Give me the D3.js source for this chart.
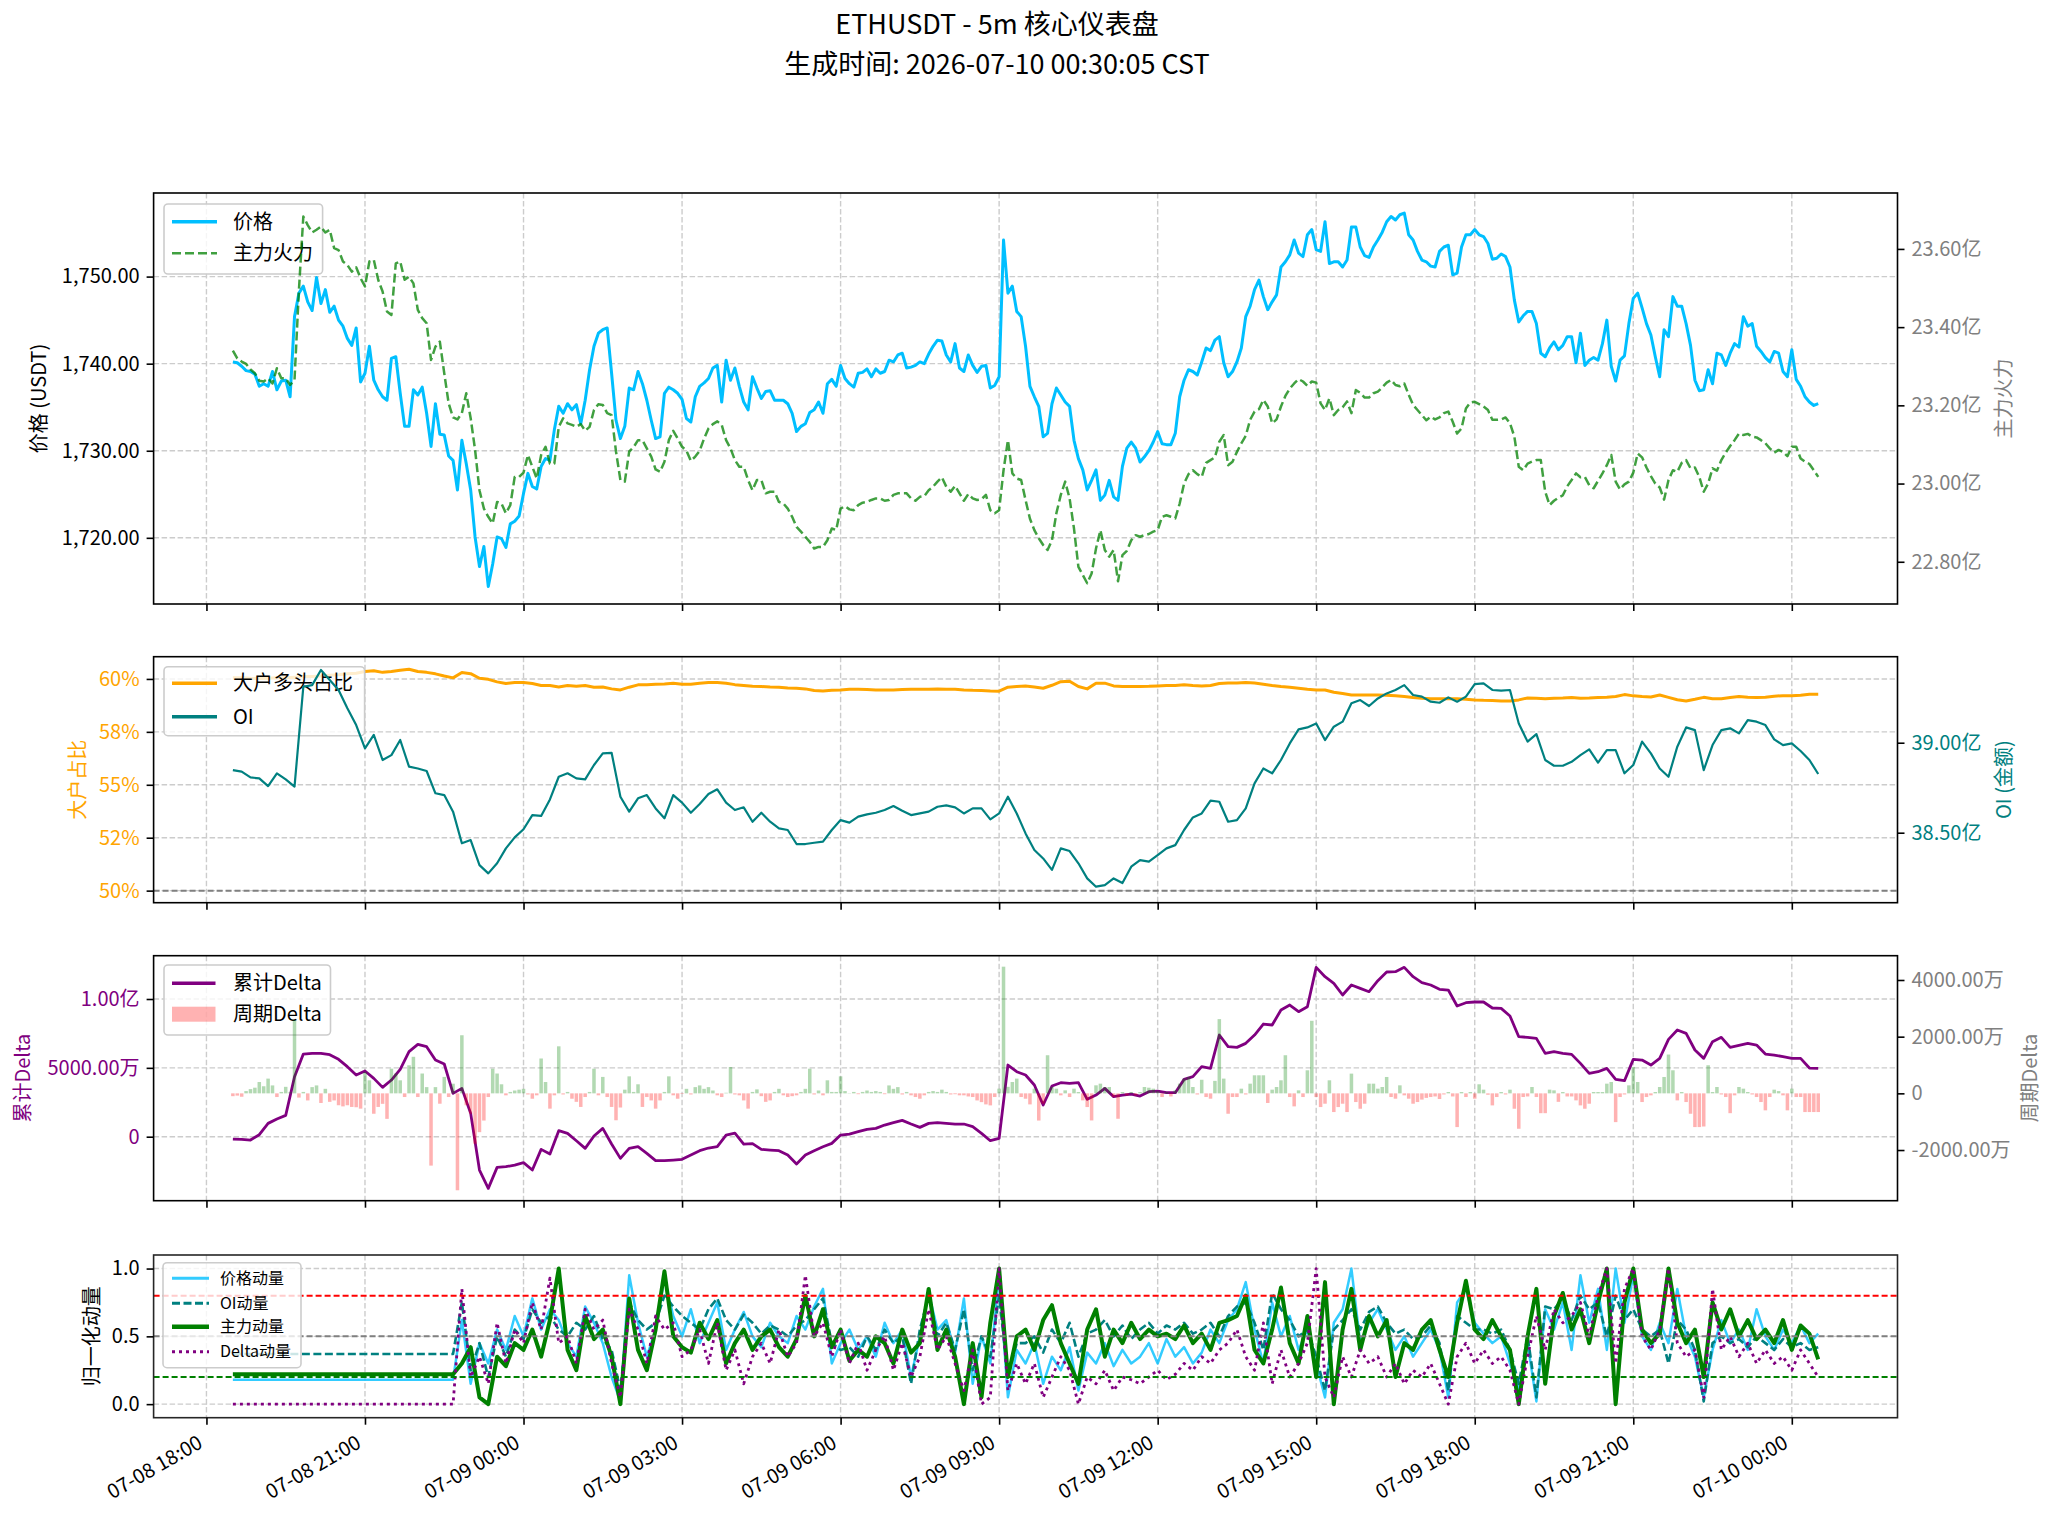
<!DOCTYPE html>
<html>
<head>
<meta charset="utf-8">
<script src="https://cdn.jsdelivr.net/npm/d3@7"></script>
<style>
  body { margin: 0; background: #fff; }
  svg text { font-family: "Noto Sans CJK SC", "Noto Sans", sans-serif; }
</style>
</head>
<body>
<div id="chart-container"></div>
<script>
const chartWidth = 2059;
const chartHeight = 1521;

const titleLines = ['ETHUSDT - 5m 核心仪表盘', '生成时间: 2026-07-10 00:30:05 CST'];

// first bar 07-08 18:30, 5m bars for panel 1 / 周期Delta, 10m samples for the rest
const startTime = new Date(2026, 6, 8, 18, 30);

const xTickLabels = ['07-08 18:00', '07-08 21:00', '07-09 00:00', '07-09 03:00', '07-09 06:00',
  '07-09 09:00', '07-09 12:00', '07-09 15:00', '07-09 18:00', '07-09 21:00', '07-10 00:00'];

// 价格 (USDT), 5m
const price = [
  1740.2,1740.1,1739.7,1739.2,1739.1,1738.8,1737.4,1737.7,1737.4,1739.1,
  1737.0,1738.0,1738.1,1736.2,1745.4,1748.1,1748.9,1747.1,1746.1,1749.9,
  1746.9,1748.5,1745.9,1746.6,1745.0,1744.3,1742.9,1742.1,1744.1,1737.9,
  1738.9,1742.0,1738.1,1737.0,1736.2,1735.8,1740.6,1740.8,1736.6,1732.8,
  1732.8,1737.0,1736.4,1737.3,1734.3,1730.5,1735.4,1731.9,1731.8,1729.4,
  1728.9,1725.5,1731.2,1728.5,1725.5,1720.1,1716.7,1719.0,1714.4,1717.0,
  1720.1,1719.9,1718.9,1721.6,1721.9,1722.5,1725.1,1727.4,1725.9,1725.6,
  1728.2,1729.1,1728.9,1732.4,1735.1,1734.3,1735.4,1734.7,1735.3,1733.1,
  1735.8,1739.3,1742.0,1743.5,1743.9,1744.1,1738.9,1733.5,1731.4,1732.8,
  1737.2,1737.0,1739.1,1737.7,1735.8,1733.5,1731.4,1731.6,1736.6,1737.3,
  1737.0,1736.6,1735.9,1733.7,1733.3,1736.2,1737.4,1737.8,1738.3,1739.5,
  1739.8,1735.6,1740.4,1738.1,1739.5,1737.4,1735.6,1734.7,1738.5,1737.2,
  1736.0,1736.8,1736.9,1735.8,1735.8,1735.8,1735.4,1734.3,1732.2,1732.8,
  1733.1,1734.4,1734.7,1735.6,1734.3,1737.7,1738.2,1737.4,1739.8,1738.3,
  1737.7,1737.3,1738.9,1739.0,1739.4,1738.5,1739.4,1738.9,1739.1,1740.4,
  1740.2,1741.0,1741.2,1739.5,1739.6,1739.8,1740.2,1740.0,1741.1,1742.0,
  1742.7,1742.6,1741.0,1740.2,1742.3,1739.5,1739.1,1741.0,1739.8,1739.0,
  1739.7,1739.8,1737.2,1737.5,1738.5,1754.2,1748.1,1748.9,1746.0,1745.4,
  1742.0,1737.4,1736.2,1735.1,1731.6,1732.0,1735.4,1737.2,1736.4,1735.6,
  1735.1,1731.2,1729.1,1727.8,1725.5,1726.6,1727.8,1724.3,1724.9,1726.6,
  1724.7,1724.3,1728.2,1730.3,1731.0,1730.3,1728.7,1729.3,1730.0,1731.0,
  1732.2,1730.8,1730.7,1730.7,1732.0,1736.2,1738.1,1739.3,1739.1,1738.7,
  1740.2,1741.8,1741.5,1742.7,1743.1,1740.1,1738.5,1739.1,1740.2,1741.8,
  1745.4,1746.6,1748.5,1749.6,1747.7,1746.2,1747.1,1747.9,1751.1,1751.7,
  1752.5,1754.2,1752.7,1752.3,1754.8,1755.4,1753.1,1752.9,1756.3,1751.5,
  1751.7,1751.7,1751.1,1751.9,1755.7,1755.7,1753.4,1752.4,1752.2,1753.4,
  1754.2,1755.1,1756.3,1756.9,1756.5,1757.1,1757.3,1754.8,1754.2,1752.9,
  1751.9,1751.7,1751.2,1751.1,1752.9,1753.4,1753.6,1750.2,1750.4,1753.4,
  1754.8,1754.8,1755.4,1754.8,1754.6,1753.8,1752.0,1752.1,1752.6,1752.3,
  1751.1,1747.3,1744.8,1745.5,1746.0,1746.0,1744.6,1741.2,1740.8,1741.8,
  1742.5,1741.6,1742.1,1743.1,1743.1,1740.1,1743.5,1739.8,1740.4,1740.7,
  1740.4,1742.3,1745.0,1739.7,1738.0,1740.4,1740.9,1744.6,1747.5,1748.1,
  1746.4,1744.6,1743.3,1740.8,1738.5,1743.9,1743.1,1747.7,1746.6,1746.6,
  1744.6,1742.1,1738.1,1736.9,1737.0,1739.3,1737.7,1741.2,1741.0,1739.8,
  1741.2,1742.3,1741.9,1745.4,1744.3,1744.6,1742.0,1741.4,1740.7,1740.2,
  1741.4,1741.2,1739.1,1738.5,1741.6,1738.2,1737.4,1736.2,1735.6,1735.2,1735.4
];

// 主力火力 (亿), 5m
const zhuli = [
  23.340,23.320,23.312,23.306,23.292,23.282,23.263,23.261,23.269,23.256,
  23.295,23.269,23.269,23.252,23.265,23.495,23.683,23.661,23.642,23.649,
  23.657,23.642,23.649,23.602,23.597,23.568,23.559,23.542,23.553,23.525,
  23.504,23.568,23.572,23.521,23.491,23.440,23.431,23.563,23.568,23.521,
  23.529,23.512,23.444,23.423,23.410,23.316,23.350,23.363,23.282,23.205,
  23.169,23.164,23.180,23.231,23.167,23.086,22.983,22.936,22.915,22.898,
  22.953,22.949,22.924,22.945,23.017,23.017,23.028,23.073,23.043,23.013,
  23.073,23.094,23.051,23.051,23.145,23.167,23.154,23.150,23.145,23.152,
  23.135,23.145,23.188,23.203,23.201,23.180,23.175,23.082,23.009,23.005,
  23.082,23.093,23.111,23.111,23.090,23.069,23.036,23.030,23.056,23.111,
  23.135,23.115,23.094,23.084,23.058,23.069,23.084,23.115,23.141,23.152,
  23.159,23.150,23.111,23.090,23.060,23.043,23.043,23.009,22.983,23.009,
  23.009,22.975,22.979,22.979,22.953,22.949,22.936,22.915,22.889,22.877,
  22.864,22.851,22.834,22.838,22.838,22.855,22.885,22.881,22.936,22.942,
  22.934,22.932,22.945,22.951,22.953,22.958,22.962,22.962,22.956,22.958,
  22.971,22.975,22.975,22.975,22.962,22.956,22.966,22.968,22.983,22.992,
  23.005,23.016,22.992,22.979,22.994,22.975,22.956,22.973,22.962,22.958,
  22.960,22.971,22.932,22.924,22.932,23.034,23.111,23.026,23.013,23.009,
  22.958,22.910,22.881,22.860,22.843,22.830,22.855,22.924,22.971,23.005,
  22.962,22.885,22.787,22.766,22.745,22.770,22.834,22.881,22.830,22.813,
  22.830,22.750,22.817,22.828,22.855,22.868,22.864,22.868,22.871,22.877,
  22.881,22.915,22.919,22.915,22.911,22.949,23.000,23.024,23.034,23.024,
  23.017,23.053,23.060,23.067,23.107,23.124,23.047,23.056,23.081,23.103,
  23.122,23.163,23.184,23.190,23.214,23.197,23.154,23.164,23.197,23.224,
  23.243,23.256,23.267,23.261,23.250,23.261,23.258,23.205,23.188,23.218,
  23.175,23.188,23.195,23.210,23.180,23.239,23.232,23.220,23.220,23.231,
  23.235,23.246,23.258,23.265,23.252,23.249,23.256,23.227,23.201,23.188,
  23.175,23.162,23.171,23.164,23.169,23.180,23.184,23.158,23.128,23.141,
  23.192,23.207,23.209,23.203,23.197,23.188,23.163,23.163,23.164,23.169,
  23.154,23.120,23.043,23.034,23.051,23.056,23.060,23.060,22.979,22.945,
  22.956,22.964,22.970,22.993,23.009,23.026,23.016,23.017,22.996,22.988,
  23.007,23.026,23.047,23.073,23.005,22.985,22.998,23.005,23.028,23.077,
  23.067,23.041,23.019,23.000,22.990,22.959,23.009,23.034,23.030,23.053,
  23.060,23.039,23.041,23.017,22.979,23.000,23.039,23.033,23.060,23.079,
  23.096,23.111,23.128,23.124,23.127,23.120,23.118,23.111,23.103,23.090,
  23.079,23.086,23.081,23.070,23.094,23.094,23.064,23.056,23.050,23.034,23.017
];

// 大户多头占比 (%), 10m
const bigRatio = [
  60.06,60.05,60.03,60.02,60.03,60.05,60.05,60.08,60.11,60.11,
  60.14,60.17,60.20,60.24,60.27,60.35,60.39,60.31,60.35,60.41,
  60.46,60.35,60.31,60.24,60.14,60.05,60.30,60.25,60.03,59.98,
  59.86,59.78,59.83,59.83,59.78,59.69,59.69,59.62,59.69,59.65,
  59.69,59.61,59.62,59.53,59.48,59.61,59.72,59.73,59.75,59.76,
  59.80,59.75,59.75,59.80,59.83,59.83,59.80,59.73,59.69,59.65,
  59.64,59.62,59.61,59.57,59.56,59.53,59.45,59.43,59.46,59.48,
  59.51,59.51,59.50,59.48,59.48,59.48,59.50,59.51,59.51,59.51,
  59.53,59.51,59.51,59.48,59.46,59.45,59.43,59.42,59.61,59.64,
  59.67,59.62,59.56,59.70,59.87,59.89,59.64,59.53,59.80,59.80,
  59.67,59.64,59.64,59.64,59.65,59.67,59.69,59.69,59.72,59.69,
  59.67,59.69,59.78,59.81,59.81,59.83,59.81,59.75,59.69,59.64,
  59.61,59.56,59.51,59.48,59.48,59.37,59.31,59.24,59.24,59.24,
  59.24,59.23,59.20,59.17,59.12,59.09,59.06,59.06,59.06,59.06,
  59.04,59.01,58.99,58.98,58.96,58.96,59.01,59.10,59.09,59.06,
  59.09,59.10,59.12,59.09,59.10,59.12,59.13,59.17,59.26,59.20,
  59.17,59.15,59.24,59.13,59.02,58.96,59.04,59.13,59.06,59.06,
  59.12,59.17,59.13,59.12,59.13,59.18,59.21,59.21,59.23,59.28,59.28
];

// OI (金额, 亿), 10m
const oiValue = [
  38.848,38.839,38.807,38.802,38.759,38.830,38.796,38.756,39.311,39.320,
  39.404,39.348,39.293,39.191,39.098,38.969,39.043,38.904,38.931,39.015,
  38.867,38.857,38.843,38.719,38.709,38.617,38.441,38.459,38.320,38.274,
  38.330,38.413,38.474,38.519,38.598,38.593,38.685,38.811,38.830,38.802,
  38.796,38.876,38.941,38.944,38.700,38.617,38.691,38.709,38.635,38.580,
  38.709,38.667,38.611,38.659,38.715,38.741,38.667,38.626,38.641,38.561,
  38.611,38.561,38.524,38.515,38.437,38.437,38.444,38.450,38.515,38.570,
  38.556,38.589,38.602,38.611,38.626,38.648,38.622,38.598,38.607,38.617,
  38.644,38.652,38.641,38.607,38.635,38.635,38.574,38.607,38.700,38.607,
  38.496,38.404,38.357,38.293,38.413,38.398,38.330,38.246,38.200,38.209,
  38.246,38.220,38.311,38.348,38.339,38.376,38.413,38.431,38.515,38.585,
  38.607,38.678,38.672,38.561,38.570,38.635,38.774,38.857,38.830,38.904,
  38.996,39.074,39.085,39.107,39.015,39.089,39.117,39.219,39.237,39.204,
  39.246,39.274,39.293,39.320,39.265,39.256,39.228,39.222,39.252,39.228,
  39.256,39.326,39.330,39.293,39.289,39.293,39.107,39.006,39.048,38.904,
  38.872,38.872,38.894,38.931,38.963,38.889,38.959,38.959,38.830,38.876,
  39.006,38.941,38.857,38.811,38.978,39.085,39.070,38.848,38.987,39.070,
  39.080,39.052,39.126,39.117,39.098,39.019,38.987,38.996,38.954,38.904,38.826
];

// 累计Delta (万), 10m
const cumDelta = [
  -169,-194,-242,145,968,1283,1549,4358,6004,6053,
  6053,5956,5617,5084,4479,4769,4237,3583,4116,4890,
  6174,6706,6537,5568,5278,3147,3510,1695,-2421,-3753,
  -2227,-2179,-2058,-1888,-2421,-920,-1259,436,242,-291,
  -847,48,605,-533,-1574,-847,-726,-1211,-1743,-1743,
  -1695,-1646,-1332,-1017,-823,-726,121,266,-533,-508,
  -920,-968,-1017,-1332,-1985,-1332,-1017,-726,-484,121,
  194,363,533,605,847,1017,1186,920,678,968,
  1017,968,920,920,726,242,-291,-121,5205,4721,
  4479,3753,2300,3680,3922,3874,3922,2712,3026,3510,
  2905,3026,3099,2954,3268,3317,3196,3196,4164,4358,
  5084,4963,7384,6537,6488,6779,7384,8183,8110,9200,
  9563,9079,9442,12298,11621,11137,10289,11016,10773,10531,
  11330,11960,11984,12298,11621,11185,11016,10701,10652,9490,
  9732,9781,9781,9345,9321,8764,7263,7215,7142,6053,
  6174,6053,5980,5326,4600,4721,4963,4164,4067,5617,
  5568,5205,5689,7069,7747,7505,6295,5689,6900,7215,
  6488,6633,6779,6658,6004,5932,5810,5689,5689,4987,4963
];

// 周期Delta (万), 5m
const periodDelta = [
  -100,-80,-120,80,150,200,400,250,520,280,
  -130,50,230,40,2580,-150,50,-250,220,280,
  -340,160,-300,-250,-420,-460,-420,-480,-490,-540,
  750,460,-720,-480,-370,-900,870,700,460,-130,
  990,1290,-130,700,220,-2550,220,-366,580,-130,
  340,-3420,2050,-420,-720,-1780,-1370,-960,-130,870,
  700,320,-70,50,100,130,160,-40,-190,-70,
  1230,400,-540,-70,1660,-40,50,-190,-300,-480,
  -130,50,870,-70,580,-130,-480,-950,-500,130,
  600,50,320,-480,-130,-250,-540,-250,50,600,
  -70,-190,-20,160,-40,220,280,160,220,100,
  -70,-130,20,930,-40,-70,-250,-540,50,140,
  -100,-300,-250,50,160,-70,-130,-100,-70,50,
  160,870,-40,100,-70,460,50,50,600,80,
  10,50,-30,50,100,50,80,50,-30,280,
  160,220,-40,50,-70,-130,-190,-70,50,80,
  50,130,50,-40,-30,-70,-70,-110,-130,-250,
  -310,-390,-425,-130,165,4470,230,400,520,-130,
  -190,-390,165,-960,-366,1345,224,165,-71,106,
  -130,165,47,-248,-484,-956,283,342,224,224,
  -130,-897,47,-71,47,-71,47,224,200,165,
  80,-130,47,-110,106,342,519,578,224,-40,
  480,-130,-189,440,2620,520,-720,-130,-130,165,
  -40,342,637,637,637,-340,130,224,460,1345,
  -130,-460,106,-130,814,2560,-130,-484,-366,460,
  -660,-484,-366,-660,696,-307,-543,-366,342,342,
  165,224,578,-130,-189,283,-71,-189,-366,-307,
  -220,-160,-130,-110,-200,-40,47,-110,-1190,47,
  -130,47,-189,320,130,-50,-425,-130,47,-40,
  130,-543,-1250,-130,-110,224,-130,-700,-700,130,
  106,-300,47,-110,-110,-248,-425,-543,-366,47,
  47,47,342,401,-1015,-130,-40,283,932,400,
  -307,-130,-71,47,224,578,1370,814,-248,47,
  -307,-720,-1190,-1190,-1170,991,47,224,-40,-130,
  -700,-71,224,165,47,-40,-130,-307,-600,-130,
  130,80,-71,-600,165,-130,-130,-660,-660,-660,-660
];

// 归一化动量, 10m
const momPrice = [
  0.18,0.18,0.18,0.18,0.18,0.18,0.18,0.18,0.18,0.18,
  0.18,0.18,0.18,0.18,0.18,0.18,0.18,0.18,0.18,0.18,
  0.18,0.18,0.18,0.18,0.18,0.18,0.62,0.15,0.45,0.30,
  0.55,0.40,0.65,0.50,0.78,0.55,0.70,0.62,0.45,0.35,
  0.72,0.60,0.45,0.20,0.02,0.95,0.60,0.35,0.55,0.93,
  0.65,0.50,0.70,0.45,0.60,0.75,0.40,0.55,0.68,0.50,
  0.42,0.60,0.50,0.45,0.65,0.55,0.72,0.85,0.30,0.45,
  0.55,0.40,0.50,0.35,0.60,0.45,0.55,0.20,0.50,0.82,
  0.55,0.62,0.38,0.78,0.15,0.50,0.30,0.95,0.05,0.40,
  0.30,0.45,0.15,0.35,0.25,0.42,0.10,0.38,0.30,0.45,
  0.28,0.40,0.30,0.35,0.45,0.30,0.48,0.35,0.42,0.30,
  0.38,0.55,0.45,0.62,0.70,0.90,0.55,0.30,0.75,0.50,
  0.65,0.40,0.55,0.30,0.05,0.60,0.70,1.00,0.45,0.60,
  0.70,0.55,0.40,0.50,0.35,0.45,0.55,0.40,0.05,0.75,
  0.85,0.60,0.52,0.45,0.50,0.30,0.10,0.45,0.02,0.70,
  0.55,0.75,0.40,0.95,0.60,0.85,0.40,1.00,0.60,0.95,
  0.50,0.40,0.60,0.45,0.85,0.50,0.35,0.05,0.40,0.62,
  0.45,0.55,0.40,0.70,0.50,0.40,0.55,0.45,0.58,0.45,0.52
];
const momOI = [
  0.37,0.37,0.37,0.37,0.37,0.37,0.37,0.37,0.37,0.37,
  0.37,0.37,0.37,0.37,0.37,0.37,0.37,0.37,0.37,0.37,
  0.37,0.37,0.37,0.37,0.37,0.37,0.75,0.25,0.45,0.20,
  0.50,0.35,0.55,0.48,0.70,0.60,0.65,0.55,0.50,0.60,
  0.55,0.65,0.48,0.40,0.10,0.75,0.62,0.55,0.60,0.80,
  0.72,0.65,0.60,0.55,0.70,0.78,0.62,0.55,0.66,0.60,
  0.52,0.58,0.55,0.50,0.58,0.62,0.70,0.78,0.45,0.40,
  0.42,0.35,0.50,0.40,0.55,0.45,0.50,0.15,0.55,0.80,
  0.50,0.60,0.40,0.70,0.25,0.50,0.35,0.80,0.20,0.45,
  0.45,0.50,0.38,0.55,0.45,0.60,0.35,0.52,0.55,0.62,
  0.50,0.58,0.48,0.55,0.60,0.52,0.58,0.55,0.60,0.52,
  0.55,0.60,0.50,0.65,0.72,0.75,0.60,0.40,0.82,0.70,
  0.62,0.50,0.55,0.35,0.10,0.55,0.62,0.70,0.55,0.68,
  0.72,0.60,0.52,0.55,0.48,0.50,0.58,0.45,0.10,0.65,
  0.60,0.55,0.55,0.52,0.55,0.40,0.15,0.50,0.05,0.72,
  0.70,0.78,0.62,0.80,0.70,0.75,0.50,0.80,0.62,0.70,
  0.55,0.50,0.55,0.30,0.62,0.55,0.40,0.02,0.45,0.50,
  0.45,0.48,0.42,0.50,0.45,0.40,0.48,0.42,0.45,0.40,0.42
];
const momZhuli = [
  0.22,0.22,0.22,0.22,0.22,0.22,0.22,0.22,0.22,0.22,
  0.22,0.22,0.22,0.22,0.22,0.22,0.22,0.22,0.22,0.22,
  0.22,0.22,0.22,0.22,0.22,0.22,0.30,0.42,0.05,0.00,
  0.35,0.28,0.45,0.40,0.55,0.35,0.62,1.00,0.40,0.25,
  0.65,0.48,0.55,0.35,0.00,0.78,0.40,0.25,0.55,0.98,
  0.50,0.42,0.38,0.60,0.48,0.62,0.30,0.45,0.55,0.40,
  0.50,0.55,0.42,0.35,0.48,0.80,0.50,0.70,0.42,0.55,
  0.32,0.40,0.35,0.50,0.45,0.30,0.55,0.38,0.45,0.85,
  0.40,0.55,0.35,0.00,0.45,0.05,0.60,1.00,0.20,0.50,
  0.55,0.40,0.62,0.73,0.45,0.30,0.15,0.55,0.70,0.35,
  0.55,0.45,0.60,0.48,0.55,0.50,0.52,0.48,0.58,0.45,
  0.52,0.40,0.60,0.62,0.65,0.80,0.40,0.30,0.55,0.86,
  0.45,0.30,0.65,0.20,0.90,0.00,0.55,0.85,0.40,0.65,
  0.50,0.62,0.20,0.45,0.40,0.55,0.62,0.40,0.20,0.60,
  0.91,0.55,0.48,0.62,0.50,0.40,0.00,0.50,0.85,0.15,
  0.65,0.82,0.55,0.70,0.45,0.75,1.00,0.00,0.75,1.00,
  0.55,0.45,0.52,1.00,0.60,0.45,0.55,0.20,0.75,0.55,
  0.70,0.50,0.62,0.48,0.55,0.45,0.62,0.40,0.58,0.52,0.33
];
const momDelta = [
  0,0,0,0,0,0,0,0,0,0,
  0,0,0,0,0,0,0,0,0,0,
  0,0,0,0,0,0,0.85,0.20,0.35,0.15,
  0.60,0.30,0.55,0.45,0.75,0.55,0.93,0.45,0.50,0.30,
  0.70,0.55,0.62,0.30,0.05,0.70,0.55,0.30,0.65,0.55,
  0.60,0.35,0.40,0.55,0.30,0.60,0.25,0.40,0.15,0.35,
  0.45,0.30,0.55,0.35,0.45,0.95,0.50,0.60,0.35,0.55,
  0.30,0.45,0.25,0.40,0.50,0.25,0.45,0.20,0.35,0.70,
  0.40,0.50,0.30,0.10,0.40,0.00,0.05,1.00,0.10,0.30,
  0.15,0.30,0.05,0.20,0.35,0.25,0.00,0.20,0.15,0.25,
  0.10,0.20,0.18,0.15,0.20,0.25,0.18,0.22,0.30,0.25,
  0.35,0.30,0.40,0.45,0.55,0.35,0.25,0.60,0.15,0.40,
  0.20,0.30,0.45,1.00,0.20,0.05,0.35,0.20,0.40,0.30,
  0.35,0.20,0.30,0.15,0.25,0.20,0.30,0.15,0.00,0.35,
  0.45,0.30,0.40,0.30,0.35,0.25,0.00,0.35,0.65,0.40,
  0.70,0.60,0.65,0.75,0.50,0.80,1.00,0.30,0.85,1.00,
  0.50,0.40,0.55,1.00,0.45,0.35,0.40,0.05,0.85,0.40,
  0.50,0.35,0.45,0.30,0.40,0.30,0.35,0.25,0.40,0.30,0.20
];

// Tick values and labels
const priceTicks = [1720, 1730, 1740, 1750];
const priceTickLabels = ['1,720.00', '1,730.00', '1,740.00', '1,750.00'];
const zhuliTicks = [22.8, 23.0, 23.2, 23.4, 23.6];
const zhuliTickLabels = ['22.80亿', '23.00亿', '23.20亿', '23.40亿', '23.60亿'];
const ratioTicks = [50, 52.5, 55, 57.5, 60];
const ratioTickLabels = ['50%', '52%', '55%', '58%', '60%'];
const oiTicks = [38.5, 39.0];
const oiTickLabels = ['38.50亿', '39.00亿'];
const cumTicks = [0, 5000, 10000];
const cumTickLabels = ['0', '5000.00万', '1.00亿'];
const periodTicks = [-2000, 0, 2000, 4000];
const periodTickLabels = ['-2000.00万', '0', '2000.00万', '4000.00万'];
const momTicks = [0, 0.5, 1.0];
const momTickLabels = ['0.0', '0.5', '1.0'];

// Layout
const plotLeft = 153.6;
const plotRight = 1897.5;
const rows = [[193, 604], [656.7, 902.7], [955.7, 1200.7], [1255, 1417.7]];
const gridColor = '#cccccc';

window.addEventListener('DOMContentLoaded', () => {
  drawChart();
});

const drawChart = () => {
  const times5 = price.map((d, i) => d3.timeMinute.offset(startTime, 5 * i));
  const times10 = bigRatio.map((d, i) => d3.timeMinute.offset(startTime, 10 * i));
  const parseTick = d3.timeParse('%Y-%m-%d %H:%M');
  const xTickTimes = xTickLabels.map((s) => parseTick('2026-' + s));

  const svg = d3
    .select('#chart-container')
    .append('svg')
    .attr('width', chartWidth)
    .attr('height', chartHeight)
    .style('display', 'block');

  const x = d3
    .scaleTime()
    .domain([new Date(2026, 6, 8, 17, 0), new Date(2026, 6, 10, 2, 0)])
    .range([plotLeft, plotRight]);

  // Title (two lines)
  svg.append('text')
    .attr('text-anchor', 'middle')
    .style('font-size', '27px')
    .attr('fill', '#000')
    .selectAll('tspan')
    .data(titleLines)
    .enter()
    .append('tspan')
    .attr('x', 997)
    .attr('y', (d, i) => 34 + i * 40)
    .text((d) => d);

  const addGrid = (g, row, y, ticks) => {
    g.selectAll(null)
      .data(xTickTimes)
      .enter()
      .append('line')
      .attr('x1', (d) => x(d))
      .attr('x2', (d) => x(d))
      .attr('y1', row[0])
      .attr('y2', row[1])
      .attr('stroke', gridColor)
      .attr('stroke-width', 1.4)
      .attr('stroke-dasharray', '5.5,2.5');
    g.selectAll(null)
      .data(ticks)
      .enter()
      .append('line')
      .attr('x1', plotLeft)
      .attr('x2', plotRight)
      .attr('y1', (d) => y(d))
      .attr('y2', (d) => y(d))
      .attr('stroke', gridColor)
      .attr('stroke-width', 1.4)
      .attr('stroke-dasharray', '5.5,2.5');
  };

  const addRefLine = (g, y, value, color, width) => {
    g.append('line')
      .attr('x1', plotLeft)
      .attr('x2', plotRight)
      .attr('y1', y(value))
      .attr('y2', y(value))
      .attr('stroke', color)
      .attr('stroke-width', width)
      .attr('stroke-dasharray', '6,3');
  };

  const addLine = (g, times, values, y, st) => {
    const line = d3
      .line()
      .x((d, i) => x(times[i]))
      .y((d) => y(d));
    g.append('path')
      .datum(values)
      .attr('d', line)
      .attr('fill', 'none')
      .attr('stroke', st.color)
      .attr('stroke-width', st.width)
      .attr('stroke-opacity', st.opacity || 1)
      .attr('stroke-dasharray', st.dash || null)
      .attr('stroke-linejoin', 'round');
  };

  const styleAxis = (g, color) => {
    g.select('.domain').remove();
    g.selectAll('.tick line').attr('stroke', '#000').attr('stroke-width', 1.6);
    g.selectAll('.tick text').attr('fill', color).style('font-size', '20px');
  };

  const addLeftAxis = (y, ticks, labels, color) => {
    const g = svg.append('g').attr('transform', `translate(${plotLeft},0)`);
    g.call(d3.axisLeft(y).tickValues(ticks).tickFormat((d, i) => labels[i]).tickSize(7).tickPadding(7));
    styleAxis(g, color);
  };

  const addRightAxis = (y, ticks, labels, color) => {
    const g = svg.append('g').attr('transform', `translate(${plotRight},0)`);
    g.call(d3.axisRight(y).tickValues(ticks).tickFormat((d, i) => labels[i]).tickSize(7).tickPadding(7));
    styleAxis(g, color);
  };

  const addBottomAxis = (row, withLabels) => {
    const g = svg.append('g').attr('transform', `translate(0,${row[1]})`);
    g.call(
      d3.axisBottom(x)
        .tickValues(xTickTimes)
        .tickFormat((d, i) => (withLabels ? xTickLabels[i] : ''))
        .tickSize(7)
        .tickPadding(7)
    );
    styleAxis(g, '#000');
    if (withLabels) {
      g.selectAll('.tick text')
        .attr('y', 0)
        .attr('dy', null)
        .attr('text-anchor', 'end')
        .attr('transform', 'translate(-3,29) rotate(-30)');
    }
  };

  const addFrame = (row, color) => {
    svg.append('rect')
      .attr('x', plotLeft)
      .attr('y', row[0])
      .attr('width', plotRight - plotLeft)
      .attr('height', row[1] - row[0])
      .attr('fill', 'none')
      .attr('stroke', color || '#000')
      .attr('stroke-width', 1.6);
  };

  const addYLabel = (text, cx, row, color) => {
    svg.append('text')
      .attr('transform', `translate(${cx},${(row[0] + row[1]) / 2}) rotate(-90)`)
      .attr('text-anchor', 'middle')
      .attr('dy', '0.35em')
      .attr('fill', color)
      .style('font-size', '20px')
      .text(text);
  };

  const addLegend = (box, items, fontSize, lineEnd, textX) => {
    const g = svg.append('g');
    g.append('rect')
      .attr('x', box[0])
      .attr('y', box[1])
      .attr('width', box[2])
      .attr('height', box[3])
      .attr('rx', 4)
      .attr('fill', '#fff')
      .attr('fill-opacity', 0.8)
      .attr('stroke', '#cccccc')
      .attr('stroke-width', 1.6);
    items.forEach((it) => {
      if (it.patch) {
        g.append('rect')
          .attr('x', 172)
          .attr('y', it.y - 7.5)
          .attr('width', lineEnd - 172)
          .attr('height', 15)
          .attr('fill', it.color)
          .attr('fill-opacity', 0.3);
      } else {
        g.append('line')
          .attr('x1', 172)
          .attr('x2', lineEnd)
          .attr('y1', it.y)
          .attr('y2', it.y)
          .attr('stroke', it.color)
          .attr('stroke-width', it.width)
          .attr('stroke-opacity', it.opacity || 1)
          .attr('stroke-dasharray', it.dash || null);
      }
      g.append('text')
        .attr('x', textX)
        .attr('y', it.y)
        .attr('dy', '0.35em')
        .style('font-size', fontSize + 'px')
        .attr('fill', '#000')
        .text(it.label);
    });
  };

  // ---------- Panel 1: 价格 / 主力火力 ----------
  const r1 = rows[0];
  const yPrice = d3.scaleLinear().domain([1712.4, 1759.6]).range([r1[1], r1[0]]);
  const yZhuli = d3.scaleLinear().domain([22.692, 23.743]).range([r1[1], r1[0]]);
  const g1 = svg.append('g');
  addGrid(g1, r1, yPrice, priceTicks);
  addLine(g1, times5, price, yPrice, { color: '#00BFFF', width: 3 });
  addLegend([164, 204, 158.6, 70], [
    { y: 221.7, color: '#00BFFF', width: 3.5, label: '价格' },
    { y: 253.3, color: 'green', width: 2.6, opacity: 0.75, dash: '9,4', label: '主力火力' }
  ], 20, 217, 233);
  addLine(svg.append('g'), times5, zhuli, yZhuli, { color: 'green', width: 2.5, opacity: 0.75, dash: '9,4' });
  addFrame(r1);
  addLeftAxis(yPrice, priceTicks, priceTickLabels, '#000');
  addRightAxis(yZhuli, zhuliTicks, zhuliTickLabels, '#808080');
  addBottomAxis(r1, false);
  addYLabel('价格 (USDT)', 39, r1, '#000');
  addYLabel('主力火力', 2004, r1, '#808080');

  // ---------- Panel 2: 大户多头占比 / OI ----------
  const r2 = rows[1];
  const yRatio = d3.scaleLinear().domain([49.43, 61.05]).range([r2[1], r2[0]]);
  const yOI = d3.scaleLinear().domain([38.111, 39.478]).range([r2[1], r2[0]]);
  const g2 = svg.append('g');
  addGrid(g2, r2, yRatio, ratioTicks);
  addLine(g2, times10, bigRatio, yRatio, { color: '#FFA500', width: 3 });
  addRefLine(g2, yRatio, 50, '#808080', 2);
  addLegend([164, 666.7, 200.6, 69], [
    { y: 683.3, color: '#FFA500', width: 3.5, label: '大户多头占比' },
    { y: 716.7, color: '#008080', width: 3.5, label: 'OI' }
  ], 20, 217, 233);
  addLine(svg.append('g'), times10, oiValue, yOI, { color: '#008080', width: 2.2 });
  addFrame(r2);
  addLeftAxis(yRatio, ratioTicks, ratioTickLabels, '#FFA500');
  addRightAxis(yOI, oiTicks, oiTickLabels, '#008080');
  addBottomAxis(r2, false);
  addYLabel('大户占比', 77.5, r2, '#FFA500');
  addYLabel('OI (金额)', 2004, r2, '#008080');

  // ---------- Panel 3: 累计Delta / 周期Delta ----------
  const r3 = rows[2];
  const yCum = d3.scaleLinear().domain([-4648, 13145]).range([r3[1], r3[0]]);
  const yPeriod = d3.scaleLinear().domain([-3788, 4857]).range([r3[1], r3[0]]);
  const g3 = svg.append('g');
  addGrid(g3, r3, yCum, cumTicks);
  addLine(g3, times10, cumDelta, yCum, { color: '#800080', width: 2.8 });
  addLegend([164, 965, 166.5, 70], [
    { y: 983.3, color: '#800080', width: 3.5, label: '累计Delta' },
    { y: 1014.2, color: 'red', patch: true, label: '周期Delta' }
  ], 20, 215.5, 233);
  const barW = x(d3.timeMinute.offset(startTime, 4)) - x(startTime);
  svg.append('g')
    .selectAll('rect')
    .data(periodDelta)
    .enter()
    .append('rect')
    .attr('x', (d, i) => x(times5[i]) - barW / 2)
    .attr('y', (d) => yPeriod(Math.max(0, d)))
    .attr('width', barW)
    .attr('height', (d) => Math.abs(yPeriod(d) - yPeriod(0)))
    .attr('fill', (d) => (d >= 0 ? 'green' : 'red'))
    .attr('fill-opacity', 0.3);
  addFrame(r3);
  addLeftAxis(yCum, cumTicks, cumTickLabels, '#800080');
  addRightAxis(yPeriod, periodTicks, periodTickLabels, '#808080');
  addBottomAxis(r3, false);
  addYLabel('累计Delta', 23, r3, '#800080');
  addYLabel('周期Delta', 2030, r3, '#808080');

  // ---------- Panel 4: 归一化动量 ----------
  const r4 = rows[3];
  const yMom = d3.scaleLinear().domain([-0.1, 1.1]).range([r4[1], r4[0]]);
  const g4 = svg.append('g');
  addGrid(g4, r4, yMom, momTicks);
  addLine(g4, times10, momPrice, yMom, { color: '#00BFFF', width: 2.5, opacity: 0.8 });
  addLine(g4, times10, momOI, yMom, { color: '#008080', width: 2.6, dash: '8,3.5' });
  addLine(g4, times10, momZhuli, yMom, { color: 'green', width: 4 });
  addLine(g4, times10, momDelta, yMom, { color: '#800080', width: 2.8, dash: '3,4' });
  addRefLine(g4, yMom, 0.8, 'red', 2);
  addRefLine(g4, yMom, 0.5, '#808080', 2);
  addRefLine(g4, yMom, 0.2, 'green', 2);
  addLegend([163, 1262.7, 138, 105], [
    { y: 1278.3, color: '#00BFFF', width: 3, opacity: 0.8, label: '价格动量' },
    { y: 1303.3, color: '#008080', width: 3, dash: '8,3.5', label: 'OI动量' },
    { y: 1326.7, color: 'green', width: 4.5, label: '主力动量' },
    { y: 1351.7, color: '#800080', width: 3, dash: '3,4', label: 'Delta动量' }
  ], 16, 209, 220);
  addFrame(r4, '#262626');
  addLeftAxis(yMom, momTicks, momTickLabels, '#000');
  addBottomAxis(r4, true);
  addYLabel('归一化动量', 92, r4, '#000');
};
</script>
</body>
</html>
